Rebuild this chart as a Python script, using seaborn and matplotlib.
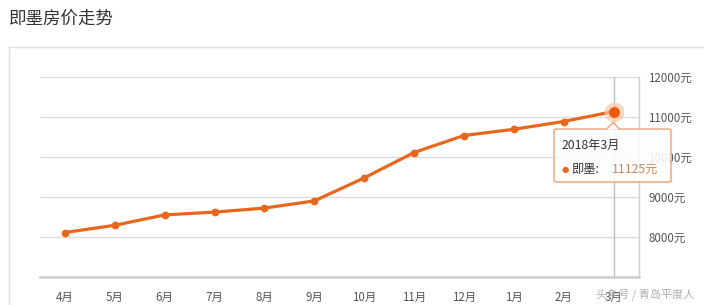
import matplotlib
matplotlib.use("Agg")
import matplotlib.pyplot as plt
import seaborn as sns
import pandas as pd
from matplotlib.patches import FancyBboxPatch, Polygon
from matplotlib.lines import Line2D

months = ["4月", "5月", "6月", "7月", "8月", "9月", "10月", "11月", "12月", "1月", "2月", "3月"]
prices = [8100, 8280, 8540, 8610, 8710, 8890, 9465, 10100, 10525, 10680, 10875, 11125]
ytick_vals = [8000, 9000, 10000, 11000, 12000]
ytick_labels = ["8000元", "9000元", "10000元", "11000元", "12000元"]
title = "即墨房价走势"
tip_title = "2018年3月"
tip_series = "即墨:"
tip_value = "11125元"
watermark = "头条号 / 青岛平度人"

sns.set_theme(style="white")
plt.rcParams['font.family'] = ['Noto Sans CJK SC', 'DejaVu Sans']

W, H = 704, 305
fig = plt.figure(figsize=(W / 100, H / 100), dpi=100)

def fx(px):
    return px / W

def fy(py):
    return 1 - py / H

# card border
fig.add_artist(Line2D([fx(8.5), fx(704)], [fy(46.5), fy(46.5)], color="#e0e0e0", lw=1))
fig.add_artist(Line2D([fx(9), fx(9)], [fy(46.5), fy(305)], color="#e0e0e0", lw=1))
fig.text(fx(9), fy(18.5), title, fontsize=12.6, color="#333333", va="center", ha="left",
         fontweight="light")

left, right, top, bottom = 40, 638.5, 76.5, 276.5
ax = fig.add_axes([fx(left), fy(bottom), fx(right) - fx(left), fy(top) - fy(bottom)])

df = pd.DataFrame({"x": list(range(len(months))), "price": prices})
orange = "#e8671c"

ax.set_xlim(-0.5, len(months) - 0.5)
ax.set_ylim(7000, 12000)
for v in ytick_vals:
    ax.axhline(v, color="#dcdcdc", lw=1, zorder=0)
ax.axvline(len(months) - 1, color="#bdbdbd", lw=1, zorder=1)

sns.lineplot(data=df, x="x", y="price", ax=ax, color=orange, lw=2.3,
             marker="o", markersize=5.6, markeredgewidth=0, zorder=3)

last = len(months) - 1
ax.scatter([last], [prices[-1]], s=200, color="#f7c9a8", alpha=0.7, lw=0, zorder=4)
ax.scatter([last], [prices[-1]], s=62, color="#ec5a0a", lw=0, zorder=5)

ax.set_xticks(range(len(months)))
ax.set_xticklabels(months)
ax.set_yticks(ytick_vals)
ax.set_yticklabels(ytick_labels)
ax.yaxis.tick_right()
ax.tick_params(axis="y", length=0, pad=7, labelsize=8.3, labelcolor="#555555")
ax.tick_params(axis="x", length=3.5, width=1, color="#cccccc", pad=7, labelsize=8.3, labelcolor="#555555")
ax.set_xlabel("")
ax.set_ylabel("")
for s in ["left", "top"]:
    ax.spines[s].set_visible(False)
ax.spines["right"].set_color("#d0d0d0")
ax.spines["right"].set_linewidth(1)
ax.spines["bottom"].set_color("#cccccc")
ax.spines["bottom"].set_linewidth(1.8)
ax.set_facecolor("none")

# tooltip
bx0, bx1, by0, by1 = 554, 671, 129, 182
shadow = FancyBboxPatch((fx(bx0 + 1.5), fy(by1 + 1.5)), fx(bx1 - bx0), fy(by0) - fy(by1),
                        boxstyle="round,pad=0,rounding_size=0.004", transform=fig.transFigure,
                        facecolor="#000000", alpha=0.06, edgecolor="none", zorder=9)
fig.add_artist(shadow)
box = FancyBboxPatch((fx(bx0), fy(by1)), fx(bx1 - bx0), fy(by0) - fy(by1),
                     boxstyle="round,pad=0,rounding_size=0.004", transform=fig.transFigure,
                     facecolor=(1, 1, 1, 0.88), edgecolor="#efa477", lw=1, zorder=10)
fig.add_artist(box)
tri = Polygon([[fx(606), fy(129.6)], [fx(613), fy(122.5)], [fx(620), fy(129.6)]],
              closed=False, transform=fig.transFigure, facecolor="white",
              edgecolor="#efa477", lw=1, zorder=11)
fig.add_artist(tri)
fig.text(fx(562), fy(145), tip_title, fontsize=8.8, color="#333333", va="center", ha="left", zorder=12)
fig.text(fx(562), fy(169.5), "●", fontsize=6, color=orange, va="center", ha="left", zorder=12,
         family=["DejaVu Sans"])
fig.text(fx(571), fy(169), tip_series, fontsize=8.8, color="#333333", va="center", ha="left", zorder=12)
fig.text(fx(612), fy(169), tip_value, fontsize=8.8, color="#cc8a5c", va="center", ha="left", zorder=12)

# watermark
fig.text(fx(596), fy(294), watermark, fontsize=8, color="#9a9a9a", alpha=0.8, va="center", ha="left",
         zorder=13)

fig.savefig("out.png", dpi=100)
